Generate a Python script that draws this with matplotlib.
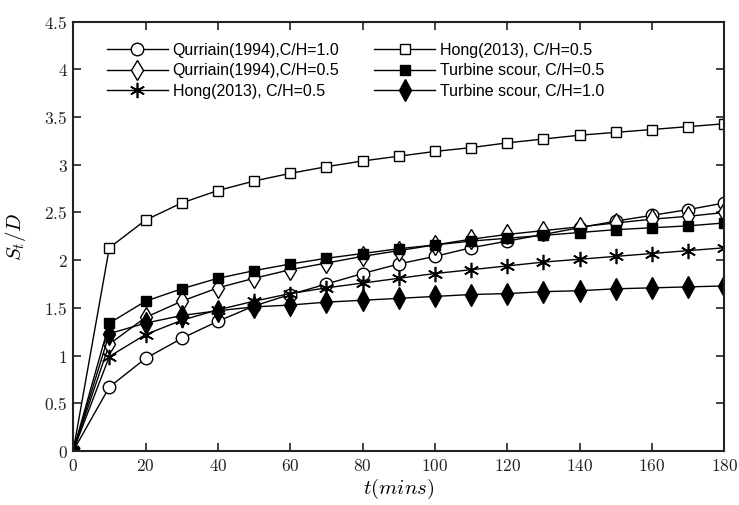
import numpy as np
import matplotlib
matplotlib.use("Agg")
import matplotlib.pyplot as plt
from matplotlib.ticker import FuncFormatter

plt.rcParams["mathtext.fontset"] = "cm"

# Time (mins)
t = [0, 10, 20, 30, 40, 50, 60, 70, 80, 90, 100, 110, 120, 130, 140, 150, 160, 170, 180]

# St/D series
qurriain_10 = [0, 0.67, 0.97, 1.18, 1.36, 1.52, 1.64, 1.75, 1.86, 1.96, 2.04, 2.13, 2.20, 2.27, 2.34, 2.41, 2.47, 2.53, 2.60]
qurriain_05 = [0, 1.12, 1.40, 1.57, 1.71, 1.81, 1.90, 1.97, 2.04, 2.10, 2.16, 2.22, 2.27, 2.31, 2.35, 2.39, 2.43, 2.46, 2.50]
hong_star = [0, 0.99, 1.22, 1.37, 1.48, 1.57, 1.65, 1.71, 1.76, 1.81, 1.86, 1.90, 1.94, 1.98, 2.01, 2.04, 2.07, 2.10, 2.13]
hong_square = [0, 2.13, 2.42, 2.60, 2.73, 2.83, 2.91, 2.98, 3.04, 3.09, 3.14, 3.18, 3.23, 3.27, 3.31, 3.34, 3.37, 3.40, 3.43]
turbine_05 = [0, 1.34, 1.57, 1.70, 1.81, 1.89, 1.96, 2.02, 2.07, 2.12, 2.16, 2.20, 2.23, 2.26, 2.29, 2.32, 2.34, 2.36, 2.39]
turbine_10 = [0, 1.23, 1.34, 1.42, 1.47, 1.51, 1.53, 1.56, 1.58, 1.60, 1.62, 1.64, 1.65, 1.67, 1.68, 1.70, 1.71, 1.72, 1.73]

labels = ["Qurriain(1994),C/H=1.0", "Qurriain(1994),C/H=0.5", "Hong(2013), C/H=0.5",
          "Hong(2013), C/H=0.5", "Turbine scour, C/H=0.5", "Turbine scour, C/H=1.0"]

fig = plt.figure(figsize=(7.39, 5.05), dpi=100)
ax = fig.add_axes([0.099, 0.107, 0.881, 0.850])

kw = dict(color="black", linewidth=1.0)
ax.plot(t, qurriain_10, marker="o", markersize=9, markerfacecolor="white", markeredgewidth=1.0, label=labels[0], **kw)
ax.plot(t, qurriain_05, marker="d", markersize=10, markerfacecolor="white", markeredgewidth=1.0, label=labels[1], **kw)
ax.plot(t, hong_star, marker=(6, 2, 0), markersize=11, markeredgewidth=1.2, label=labels[2], **kw)
ax.plot(t, hong_square, marker="s", markersize=7.5, markerfacecolor="white", markeredgewidth=1.0, label=labels[3], **kw)
ax.plot(t, turbine_05, marker="s", markersize=7.5, markerfacecolor="black", label=labels[4], **kw)
ax.plot(t, turbine_10, marker="d", markersize=11, markerfacecolor="black", label=labels[5], **kw)

ax.set_xlim(0, 180)
ax.set_ylim(0, 4.5)
ax.set_xticks(np.arange(0, 181, 20))
ax.set_yticks(np.arange(0, 4.51, 0.5))

def fmt(v, pos):
    return "$" + ("%g" % v) + "$"

ax.xaxis.set_major_formatter(FuncFormatter(fmt))
ax.yaxis.set_major_formatter(FuncFormatter(fmt))
ax.tick_params(direction="in", top=True, right=True, length=6, width=1.2,
               labelsize=12.5, colors="#222222", pad=4)
for sp in ax.spines.values():
    sp.set_linewidth(1.5)
    sp.set_color("#222222")

ax.set_xlabel("$t(mins)$", fontsize=15, labelpad=2)
ax.set_ylabel("$S_t/D$", fontsize=15, labelpad=12)

ax.legend(loc="upper left", ncol=2, frameon=False,
          prop={"family": "Liberation Sans", "size": 11.5},
          handlelength=3.8, columnspacing=2.2, handletextpad=0.3,
          labelspacing=0.35, bbox_to_anchor=(0.03, 0.985))

fig.savefig("out.png", dpi=100)
